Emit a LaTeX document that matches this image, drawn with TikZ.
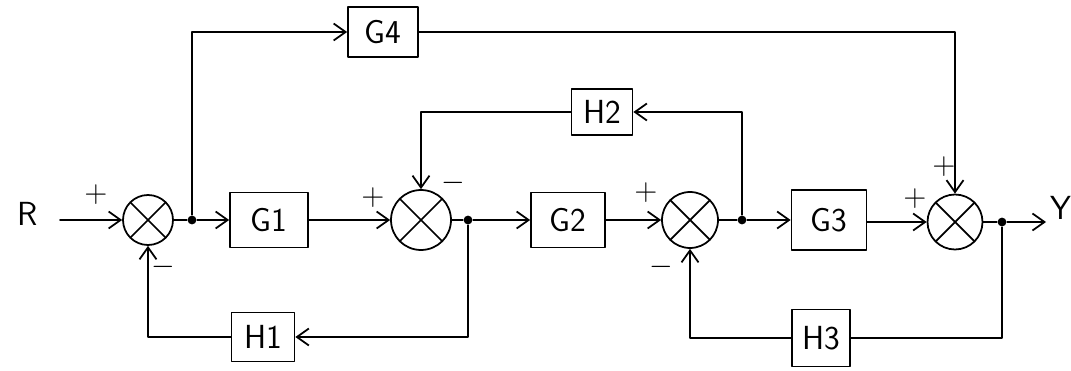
\documentclass[tikz,border=0pt]{standalone}
\usepackage{tikz}
\usetikzlibrary{arrows.meta}

\begin{document}
\begin{tikzpicture}[x=0.02cm, y=-0.02cm, >={Straight Barb[length=2.4mm,width=3.4mm]},
	line width=1pt, line join=round, line cap=round, font=\sffamily\fontsize{19}{22}\selectfont,
	blk/.style={draw, inner sep=0pt},
	sum/.style={draw, circle, inner sep=0pt, minimum size=1.1cm,
		path picture={\draw (path picture bounding box.north west) -- (path picture bounding box.south east)
			(path picture bounding box.north east) -- (path picture bounding box.south west);}},
	dot/.style={circle, fill, inner sep=0pt, minimum size=5pt},
	sgn/.style={inner sep=0pt, font=\sffamily\fontsize{18}{20}\selectfont}]
	\useasboundingbox (0,0) rectangle (1071,371);
	% hang chinh
	\node[inner sep=0pt] (R) at (28,214) {R};
	\node[sum, minimum size=1cm] (s1) at (148,220) {};
	\node[dot] (d1) at (192,220) {};
	\node[blk, minimum width=1.56cm, minimum height=1.1cm] (g1) at (269,220) {G1};
	\node[sum, minimum size=1.2cm] (s2) at (421,220) {};
	\node[dot] (d2) at (468,220) {};
	\node[blk, minimum width=1.48cm, minimum height=1.1cm] (g2) at (568,220) {G2};
	\node[sum, minimum size=1.12cm] (s3) at (690,220) {};
	\node[dot] (d3) at (742,220) {};
	\node[blk, minimum width=1.5cm, minimum height=1.2cm] (g3) at (829,220) {G3};
	\node[sum] (s4) at (955,222) {};
	\node[dot] (d4) at (1002,222) {};
	\coordinate (yout) at (1046,222);
	\node[inner sep=0pt] (Y) at (1061,208) {Y};
	% cac khoi phu
	\node[blk, minimum width=1.4cm, minimum height=1cm] (g4) at (383,32) {G4};
	\node[blk, minimum width=1.26cm, minimum height=0.98cm] (h1) at (263,337) {H1};
	\node[blk, minimum width=1.22cm, minimum height=0.92cm] (h2) at (602,112) {H2};
	\node[blk, minimum width=1.16cm, minimum height=1.14cm] (h3) at (821,338) {H3};
	% dau
	\node[sgn] (p1) at (96,195) {+};
	\node[sgn] (p2) at (373,198) {+};
	\node[sgn] (p3) at (646,193) {+};
	\node[sgn] (p4) at (915,199) {+};
	\node[sgn] (p5) at (944,167) {+};
	\node[sgn] (m1) at (163,267) {$-$};
	\node[sgn] (m2) at (453,183) {$-$};
	\node[sgn] (m3) at (661,267) {$-$};
	% duong noi
	\draw[->] ([xshift=12pt]R.east |- s1) -- (s1);
	\draw (s1) -- (d1);
	\draw[->] (d1) -- (g1);
	\draw[->] (g1) -- (s2);
	\draw (s2) -- (d2);
	\draw[->] (d2) -- (g2);
	\draw[->] (g2) -- (s3);
	\draw (s3) -- (d3);
	\draw[->] (d3) -- (g3);
	\draw[->] (g3.east |- s4) -- (s4);
	\draw (s4) -- (d4);
	\draw[->] (d4) -- (yout);
	\draw[->] (d1) |- (g4);
	\draw[->] (g4) -| (s4);
	\draw[->] (d2) |- (h1);
	\draw[->] (h1) -| (s1);
	\draw[->] (d3) |- (h2);
	\draw[->] (h2) -| (s2);
	\draw (d4) |- (h3);
	\draw[->] (h3) -| (s3);
\end{tikzpicture}
\end{document}
